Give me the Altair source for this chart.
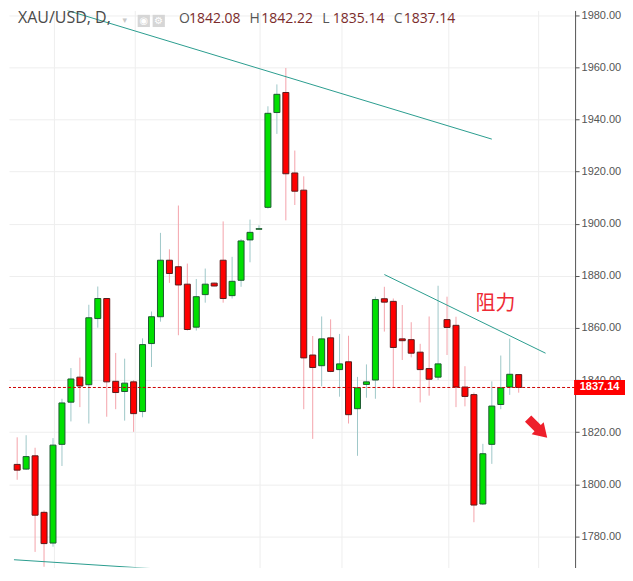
import altair as alt
import pandas as pd

# ---------------- data ----------------
days = list(range(57))
opens = [1807.6, 1805.8, 1810.9, 1789.2, 1777.4, 1815.3, 1831.5, 1841.1, 1838.2, 1863.6,
         1871.3, 1839.5, 1835.6, 1839.3, 1827.9, 1854.0, 1864.3, 1886.0, 1883.5, 1876.8,
         1860.3, 1872.8, 1877.2, 1886.0, 1872.4, 1878.3, 1893.8, 1897.9, 1906.3, 1942.7,
         1950.4, 1919.5, 1912.9, 1849.6, 1845.5, 1856.2, 1844.0, 1847.0, 1829.0, 1838.3,
         1840.0, 1871.2, 1870.2, 1855.8, 1855.5, 1850.7, 1844.4, 1841.1, 1863.2, 1861.0,
         1837.3, 1834.4, 1792.4, 1815.3, 1830.6, 1837.3, 1842.08]
highs = [1818.0, 1818.8, 1814.0, 1789.9, 1817.7, 1832.8, 1844.6, 1848.6, 1868.9, 1875.9,
         1871.5, 1850.4, 1848.2, 1840.0, 1856.0, 1866.3, 1896.5, 1890.2, 1907.0, 1884.7,
         1878.8, 1882.8, 1877.4, 1900.9, 1887.3, 1894.1, 1901.6, 1899.4, 1945.1, 1953.5,
         1959.8, 1928.1, 1918.2, 1856.9, 1864.4, 1863.3, 1857.7, 1857.0, 1841.2, 1846.0,
         1872.0, 1875.8, 1871.3, 1868.8, 1862.2, 1853.9, 1864.4, 1876.2, 1872.0, 1864.3,
         1845.3, 1835.2, 1815.5, 1839.5, 1849.4, 1855.9, 1842.22]
lows = [1801.7, 1805.5, 1774.0, 1768.3, 1776.0, 1807.0, 1824.1, 1829.6, 1823.3, 1860.1,
        1825.9, 1828.8, 1824.4, 1820.1, 1825.7, 1845.0, 1862.4, 1877.3, 1857.2, 1859.0,
        1859.0, 1869.7, 1876.0, 1869.7, 1871.3, 1875.8, 1885.2, 1897.8, 1905.8, 1934.5,
        1901.3, 1907.2, 1828.8, 1817.4, 1837.6, 1843.0, 1833.6, 1823.3, 1810.9, 1833.2,
        1832.8, 1858.6, 1837.3, 1847.7, 1848.7, 1831.4, 1834.0, 1840.0, 1849.6, 1829.6,
        1829.9, 1785.4, 1792.0, 1807.8, 1828.8, 1834.3, 1835.14]
closes = [1805.4, 1810.6, 1788.1, 1777.2, 1815.0, 1831.2, 1840.4, 1837.7, 1863.9, 1871.3,
          1839.3, 1835.2, 1838.8, 1827.1, 1853.6, 1864.3, 1886.0, 1880.9, 1876.5, 1859.4,
          1872.0, 1876.8, 1876.1, 1871.3, 1877.9, 1893.4, 1896.7, 1898.1, 1942.4, 1949.7,
          1919.2, 1912.5, 1848.5, 1844.8, 1855.8, 1843.3, 1846.2, 1826.7, 1837.0, 1839.3,
          1870.9, 1869.9, 1852.5, 1855.1, 1850.3, 1844.0, 1840.3, 1846.2, 1860.2, 1837.3,
          1833.7, 1792.0, 1811.7, 1830.0, 1837.0, 1842.2, 1837.14]

y_ticks = [1780, 1800, 1820, 1840, 1860, 1880, 1900, 1920, 1940, 1960, 1980]
grid_days = [4.10, 13.17, 27.11, 36.18, 48.13, 58.21]
last_price = 1837.14

# trend lines (day index, price)
trend_x1 = [5.6, 41.0, -0.36]
trend_y1 = [1981.9, 1880.5, 1771.0]
trend_x2 = [53.0, 59.0, 20.0]
trend_y2 = [1932.5, 1850.3, 1766.5]

label_text = ["阻力"]
label_day = [53.4]
label_price = [1869.2]

arrow_day = [58.12]
arrow_price = [1821.5]

symbol_name = "XAU/USD, D,"
ohlc_letters = ["O", "H", "L", "C"]
ohlc_values = ["1842.08", "1842.22", "1835.14", "1837.14"]

# ---------------- chart ----------------
W, H = 567, 558
xs = alt.Scale(domain=[-0.356, 61.74], nice=False, zero=False)
ys = alt.Scale(domain=[1768.0, 1981.9], nice=False, zero=False)

x_axis = alt.Axis(values=grid_days, grid=True, gridColor="#eeeeee", gridWidth=1,
                  labels=False, ticks=False, domain=False, title=None)
y_axis = alt.Axis(orient="right", values=y_ticks, format=".2f", grid=True,
                  gridColor="#eeeeee", gridWidth=1, domainColor="#555555",
                  tickColor="#555555", tickSize=4, labelColor="#555555",
                  labelFont="Liberation Sans", labelFontSize=11, labelPadding=2,
                  title=None)

df = pd.DataFrame({"day": days, "open": opens, "high": highs,
                   "low": lows, "close": closes})
up = "datum.close >= datum.open"
base = alt.Chart(df)

wicks = base.mark_rule(strokeWidth=1, clip=True).encode(
    x=alt.X("day:Q", scale=xs, axis=x_axis),
    y=alt.Y("low:Q", scale=ys, axis=y_axis),
    y2="high:Q",
    color=alt.condition(up, alt.value("#9fc8c9"), alt.value("#f4a3ab")),
)
bodies = base.mark_bar(size=6, strokeWidth=1, clip=True).encode(
    x="day:Q", y="open:Q", y2="close:Q",
    fill=alt.condition(up, alt.value("#00e000"), alt.value("#ff0000")),
    stroke=alt.condition(up, alt.value("#1d5a31"), alt.value("#5a1c1c")),
)

tl = pd.DataFrame({"x1": trend_x1, "y1": trend_y1, "x2": trend_x2, "y2": trend_y2})
trends = alt.Chart(tl).mark_rule(color="#2a9d8f", strokeWidth=1, clip=True).encode(
    x="x1:Q", y="y1:Q", x2="x2:Q", y2="y2:Q")

pdf = pd.DataFrame({"p": [last_price]})
price_line = alt.Chart(pdf).mark_rule(color="#cc0000", strokeDash=[3, 2],
                                      strokeWidth=1).encode(y="p:Q")
box_path = "M-1,-0.294 L1,-0.294 L1,0.294 L-1,0.294 Z"
price_box = alt.Chart(pdf).mark_point(shape=box_path, filled=True, color="#ff0000",
                                      size=2601, opacity=1, strokeWidth=0).encode(
    x=alt.value(591.5), y="p:Q")
price_txt = alt.Chart(pdf).mark_text(color="white", fontWeight="bold",
                                     font="Liberation Sans", fontSize=11,
                                     align="center", baseline="middle").encode(
    x=alt.value(591.5), y="p:Q", text=alt.Text("p:Q", format=".2f"))

ldf = pd.DataFrame({"t": label_text, "d": label_day, "p": label_price})
res_label = alt.Chart(ldf).mark_text(color="#ee2a35", font="Noto Sans CJK SC",
                                     fontSize=20, align="center",
                                     baseline="middle").encode(
    x="d:Q", y="p:Q", text="t:N")

arrow_path = ("M-0.33,-1 L0.33,-1 L0.33,0 L0.63,0 L0,1 L-0.63,0 L-0.33,0 Z")
adf = pd.DataFrame({"d": arrow_day, "p": arrow_price})
arrow = alt.Chart(adf).mark_point(shape=arrow_path, filled=True, color="#ee1f2b",
                                  size=729, angle=315, opacity=1,
                                  strokeWidth=0).encode(x="d:Q", y="p:Q")

# header (pixel-placed annotation, like a title)
one = pd.DataFrame({"k": [0]})
hdr = []
hdr.append(alt.Chart(one).mark_text(text=symbol_name, font="Open Sans", fontSize=16,
                                    color="#4a4a4a", align="left",
                                    baseline="alphabetic").encode(
    x=alt.value(9), y=alt.value(13)))
hdr.append(alt.Chart(one).mark_text(text="▾", font="DejaVu Sans", fontSize=9,
                                    color="#c8c8c8", align="center",
                                    baseline="middle").encode(
    x=alt.value(116), y=alt.value(10)))
for cx, glyph in [(135, "◉"), (150, "⚙")]:
    hdr.append(alt.Chart(one).mark_point(shape="square", filled=True,
                                         color="#d6d6d6", size=150, opacity=1,
                                         strokeWidth=0).encode(
        x=alt.value(cx), y=alt.value(10.5)))
    hdr.append(alt.Chart(one).mark_text(text=glyph, font="DejaVu Sans", fontSize=10,
                                        color="white", align="center",
                                        baseline="middle").encode(
        x=alt.value(cx), y=alt.value(10.5)))
letter_x = [170.3, 241.0, 313.7, 385.3]
value_x = [180.3, 252.7, 324.3, 395.3]
for lx, vx, letter, val in zip(letter_x, value_x, ohlc_letters, ohlc_values):
    hdr.append(alt.Chart(one).mark_text(text=letter, font="Open Sans", fontSize=14,
                                        color="#555555", align="left",
                                        baseline="alphabetic").encode(
        x=alt.value(lx), y=alt.value(13)))
    hdr.append(alt.Chart(one).mark_text(text=val, font="Open Sans", fontSize=14,
                                        color="#7b2b2b", align="left",
                                        baseline="alphabetic").encode(
        x=alt.value(vx), y=alt.value(13)))

chart = alt.layer(wicks, bodies, trends, price_line, res_label, arrow,
                  price_box, price_txt, *hdr).properties(
    width=W, height=H, padding=0
).configure_view(stroke=None)

chart.save("out.html", embed_options={"renderer": "svg", "actions": False})
